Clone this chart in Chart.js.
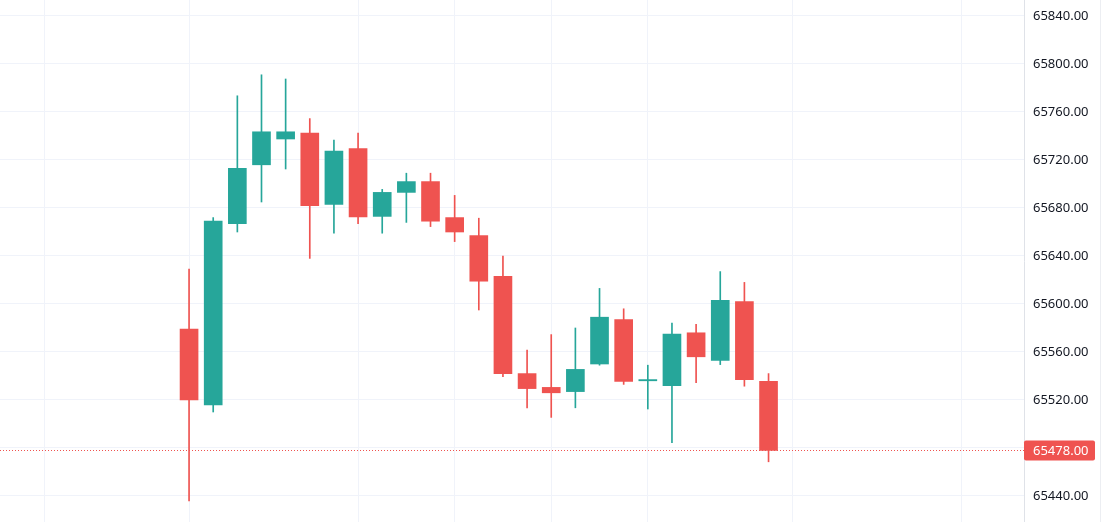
<!DOCTYPE html>
<html>
<head>
<meta charset="utf-8">
<script src="https://cdn.jsdelivr.net/npm/chart.js@4"></script>
<style>
  html, body { margin: 0; padding: 0; background: #fff; }
  #wrap { width: 1114px; height: 522px; position: relative; }
</style>
</head>
<body>
<div id="wrap"><canvas id="chart"></canvas></div>
<script>
// candle data
const candles = [0, 1, 2, 3, 4, 5, 6, 7, 8, 9, 10, 11, 12, 13, 14, 15, 16, 17, 18, 19, 20, 21, 22, 23, 24];
const opens  = [65579, 65516, 65667, 65716, 65737.5, 65742.5, 65683, 65729.5, 65673, 65693, 65702, 65672, 65657, 65623, 65542, 65530.5, 65527, 65550, 65587, 65536, 65532, 65576, 65553, 65602, 65535.5];
const highs  = [65629, 65672, 65773.5, 65791, 65787.5, 65754.5, 65736.5, 65742.5, 65695.5, 65709, 65709, 65690.5, 65671.5, 65640, 65561.5, 65574.5, 65580, 65613, 65596, 65549, 65584, 65583, 65627, 65618, 65542];
const lows   = [65436, 65510, 65660, 65685, 65712.5, 65638, 65659, 65667, 65659, 65668, 65664.5, 65652, 65595, 65539.5, 65513.5, 65505.5, 65513.5, 65549, 65533, 65512.5, 65484.5, 65534.5, 65549.5, 65531.5, 65468.5];
const closes = [65520, 65669, 65713, 65743.5, 65743.5, 65682, 65727.5, 65672.5, 65693, 65702, 65669, 65660, 65619, 65542, 65529.5, 65526, 65545.5, 65589, 65535.5, 65537, 65575, 65556, 65603, 65537, 65478];

// axis ticks
const priceTicks = [65440, 65480, 65520, 65560, 65600, 65640, 65680, 65720, 65760, 65800, 65840];
const timeGrid = [-6, 0, 7, 11, 15, 19, 25, 32];

const UP = '#26a69a', DOWN = '#ef5350';
const colors = candles.map(i => closes[i] >= opens[i] ? UP : DOWN);
const lastClose = closes[closes.length - 1];

// dotted last-price line + red price tag
const lastPrice = {
  id: 'lastPrice',
  afterDatasetsDraw(chart) {
    const { ctx, chartArea, scales } = chart;
    const y = scales.y.getPixelForValue(lastClose);
    ctx.save();
    ctx.strokeStyle = DOWN;
    ctx.lineWidth = 1;
    ctx.setLineDash([1, 2]);
    ctx.beginPath();
    ctx.moveTo(chartArea.left, Math.round(y) + 0.5);
    ctx.lineTo(chartArea.right, Math.round(y) + 0.5);
    ctx.stroke();
    ctx.setLineDash([]);
    const x0 = chartArea.right, w = 71, h = 20;
    ctx.fillStyle = DOWN;
    ctx.beginPath();
    ctx.roundRect(x0, y - h / 2, w, h, 2);
    ctx.fill();
    ctx.fillStyle = '#fff';
    ctx.font = '13px "Noto Sans"';
    ctx.textBaseline = 'middle';
    ctx.fillText(lastClose.toFixed(2), x0 + 9, y + 1);
    // right edge of the price panel
    ctx.strokeStyle = '#eceef2';
    ctx.beginPath();
    ctx.moveTo(1100.5, 0);
    ctx.lineTo(1100.5, chart.height);
    ctx.stroke();
    ctx.restore();
  }
};

new Chart(document.getElementById('chart'), {
  type: 'bar',
  data: {
    datasets: [
      {
        label: 'body',
        data: candles.map(i => ({ x: i, y: [opens[i], closes[i] === opens[i] ? closes[i] + 1 : closes[i]] })),
        backgroundColor: colors,
        barThickness: 18,
        grouped: false,
        order: 0
      },
      {
        label: 'wick',
        data: candles.map(i => ({ x: i, y: [lows[i], highs[i]] })),
        backgroundColor: colors,
        barThickness: 1,
        grouped: false,
        order: 1
      }
    ]
  },
  options: {
    responsive: true,
    maintainAspectRatio: false,
    animation: false,
    layout: { padding: 0 },
    plugins: { legend: { display: false }, tooltip: { enabled: false } },
    scales: {
      x: {
        type: 'linear',
        min: -7.83,
        max: 34.58,
        offset: false,
        afterBuildTicks: s => { s.ticks = timeGrid.map(v => ({ value: v })); },
        afterFit: s => { s.height = 0; s.paddingLeft = 0; s.paddingRight = 0; },
        ticks: { display: false },
        grid: { color: '#f0f3fa', drawTicks: false, offset: false },
        border: { display: false }
      },
      y: {
        position: 'right',
        min: 65418.33,
        max: 65853.33,
        afterBuildTicks: s => { s.ticks = priceTicks.map(v => ({ value: v })); },
        afterFit: s => { s.width = 90; s.paddingTop = 0; s.paddingBottom = 0; },
        ticks: {
          padding: 9,
          color: '#131722',
          font: { family: '"Noto Sans"', size: 13 },
          callback: v => Number(v).toFixed(2)
        },
        grid: { color: '#f0f3fa', drawTicks: false },
        border: { display: true, color: '#dfe2e8' }
      }
    }
  },
  plugins: [lastPrice]
});
</script>
</body>
</html>
